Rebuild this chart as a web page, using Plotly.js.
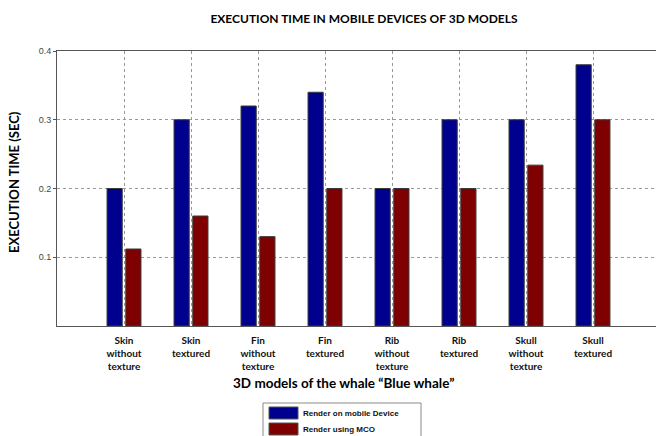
<!DOCTYPE html>
<html>
<head>
<meta charset="utf-8">
<script src="https://cdn.plot.ly/plotly-3.0.1.min.js"></script>
<style>html,body{margin:0;padding:0;background:#fff;}#chart{width:656px;height:436px;}</style>
</head>
<body>
<div id="chart"></div>
<script>
const categories = ["Skin<br>without<br>texture","Skin<br>textured","Fin<br>without<br>texture","Fin<br>textured","Rib<br>without<br>texture","Rib<br>textured","Skull<br>without<br>texture","Skull<br>textured"];
const mobileValues = [0.2, 0.3, 0.32, 0.34, 0.2, 0.3, 0.3, 0.38];
const mcoValues = [0.112, 0.16, 0.13, 0.2, 0.2, 0.2, 0.234, 0.3];
const seriesNames = ["Render on mobile Device", "Render using MCO"];
const seriesColors = ["#00008f", "#7f0000"];
const yTicks = [0.1, 0.2, 0.3, 0.4];

const W = 656, H = 436, L = 57, T = 51, B = 110;
const plotW = W - L, plotH = H - T - B;
const px = x => (x - L) / plotW;
const py = y => (H - B - y) / plotH;

const idx = categories.map((c, i) => i);
const traces = [mobileValues, mcoValues].map((vals, k) => ({
  type: "bar", x: idx, y: vals, name: seriesNames[k],
  marker: {color: seriesColors[k], line: {color: "#3a3a3a", width: 1}},
  showlegend: false, hoverinfo: "skip"
}));

const gridFont = "Liberation Sans Narrow, Liberation Sans, Arial, sans-serif";
const boldFont = "Lato, Carlito, Calibri, sans-serif";

const shapes = [
  {type: "rect", xref: "paper", yref: "paper", x0: px(263), x1: px(421), y0: py(440), y1: py(403), line: {color: "#8a8a8a", width: 1}, fillcolor: "#ffffff", layer: "above"}
];
const annotations = [
  {xref: "paper", yref: "paper", x: px(343), y: py(383), xanchor: "center", yanchor: "middle", showarrow: false,
   text: "<b>3D models of the whale “Blue whale”</b>", font: {family: boldFont, size: 13.5, color: "#000"}},
  {xref: "paper", yref: "paper", x: px(14), y: py(182), xanchor: "center", yanchor: "middle", showarrow: false, textangle: -90,
   text: "<b>EXECUTION TIME (SEC)</b>", font: {family: boldFont, size: 13, color: "#000"}}
];
seriesNames.forEach((n, k) => {
  const yc = 413 + k * 16;
  shapes.push({type: "rect", xref: "paper", yref: "paper", x0: px(269), x1: px(298), y0: py(yc + 6), y1: py(yc - 6),
    fillcolor: seriesColors[k], line: {color: "#555", width: 1}, layer: "above"});
  annotations.push({xref: "paper", yref: "paper", x: px(301), y: py(yc), xanchor: "left", yanchor: "middle", showarrow: false,
    text: "<b>" + n + "</b>", font: {family: gridFont, size: 8, color: "#111"}});
});

const layout = {
  width: W, height: H,
  margin: {l: L, r: 0, t: T, b: B, pad: 0},
  paper_bgcolor: "#fff", plot_bgcolor: "#fff",
  barmode: "group", bargap: 0.44, bargroupgap: 0.19,
  title: {text: "<b>EXECUTION TIME IN MOBILE DEVICES OF 3D MODELS</b>", xref: "paper", x: px(364), xanchor: "center",
    yref: "container", y: 1 - 19 / H, yanchor: "middle", font: {family: boldFont, size: 12, color: "#000"}},
  xaxis: {range: [-1, plotW / 67 - 1], tickmode: "array", tickvals: idx, ticktext: categories.map(c => "<b>" + c + "</b>"),
    showline: true, linecolor: "#555", linewidth: 1, mirror: true,
    showgrid: true, gridcolor: "#999", griddash: "dot", gridwidth: 1, zeroline: false,
    ticks: "outside", ticklen: 5, tickcolor: "rgba(0,0,0,0)", tickfont: {family: boldFont, size: 10, color: "#111"}, fixedrange: true},
  yaxis: {range: [0, 0.4], tickmode: "array", tickvals: yTicks, ticktext: yTicks.map(v => v.toFixed(1)),
    showline: true, linecolor: "#555", linewidth: 1, mirror: false,
    showgrid: true, gridcolor: "#999", griddash: "dot", gridwidth: 1, zeroline: false,
    ticks: "outside", ticklen: 3, tickcolor: "#555", tickfont: {family: gridFont, size: 9, color: "#444"}, fixedrange: true},
  shapes: shapes, annotations: annotations
};
Plotly.newPlot("chart", traces, layout, {staticPlot: true, displayModeBar: false});
</script>
</body>
</html>
